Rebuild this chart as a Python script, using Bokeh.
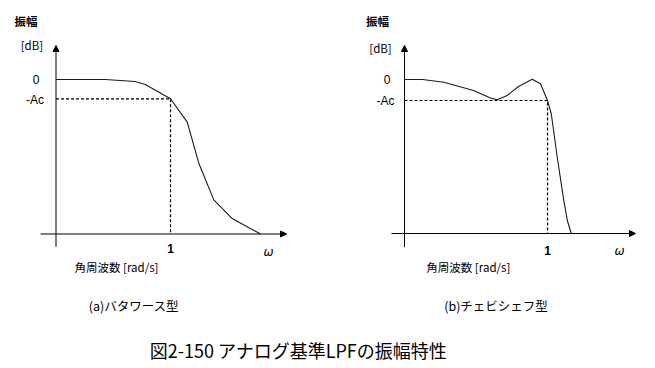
from bokeh.plotting import figure
from bokeh.layouts import column, row
from bokeh.models import Arrow, NormalHead, Range1d
from bokeh.core.properties import value
from bokeh.embed import file_html
from bokeh.resources import INLINE

# ---------------- data ----------------
AC = -3.0            # level of -Ac [dB]
FLOOR_A = -24.0      # level of the frequency axis, panel (a)
FLOOR_B = -22.0      # level of the frequency axis, panel (b)

butter_w = [0.0, 0.43, 0.69, 0.78, 1.0, 1.146, 1.247, 1.378, 1.539, 1.786]
butter_db = [0.0, 0.0, -0.31, -0.78, -3.0, -6.63, -13.0, -18.7, -21.6, -24.0]

cheby_w = [0.0, 0.126, 0.275, 0.483, 0.601, 0.648, 0.718, 0.797, 0.893, 0.951,
           1.0, 1.026, 1.068, 1.114, 1.138, 1.166]
cheby_db = [0.0, 0.0, -0.39, -1.57, -2.64, -2.9, -2.29, -1.0, 0.05, -0.61,
            -3.0, -4.86, -11.1, -17.3, -20.1, -22.0]

y_tick_labels = ["0", "-Ac"]
x_tick_label = "1"
y_label_1 = "振幅"
y_label_2 = "[dB]"
x_symbol = "ω"
x_label_a = "角周波数 [rad/s]"
x_label_b = "角周波数  [rad/s]"
sub_a = "(a)バタワース型"
sub_b = "(b)チェビシェフ型"
main_title = "図2-150  アナログ基準LPFの振幅特性"

JP = value("Noto Sans CJK JP")
LAT = value("Liberation Sans")
INK = "#1a1a1a"


def make_panel(width, xr, yr, w, db, floor, ax, lab, sub, xlab):
    p = figure(width=width, height=328, x_range=Range1d(*xr), y_range=Range1d(*yr),
               output_backend="svg", toolbar_location=None,
               x_axis_location=None, y_axis_location=None, min_border=0,
               outline_line_color=None, background_fill_color="white",
               border_fill_color="white")
    p.grid.visible = False
    # axes with arrow heads
    p.add_layout(Arrow(end=NormalHead(size=6, fill_color="black", line_color="black", line_width=1),
                       x_start=0, y_start=ax["ybot"], x_end=0, y_end=ax["ytop"],
                       line_color="black", line_width=1))
    p.add_layout(Arrow(end=NormalHead(size=6, fill_color="black", line_color="black", line_width=1),
                       x_start=ax["xleft"], y_start=floor, x_end=ax["xright"], y_end=floor,
                       line_color="black", line_width=1))
    # dashed guides
    p.line([0, 1, 1], [AC, AC, floor], line_color="black", line_width=1.2, line_dash="3 2")
    # response curve
    p.line(w, db, line_color=INK, line_width=1.1)
    # texts
    p.text([lab["y1"][0]], [lab["y1"][1]], text=[y_label_1], text_font=JP, text_font_size="11.5px",
           text_align="center", text_baseline="middle", text_color="black", text_font_style="bold")
    p.text([lab["y2"][0]], [lab["y2"][1]], text=[y_label_2], text_font=JP, text_font_size="11.5px",
           text_align="center", text_baseline="middle", text_color="black")
    p.text([lab["t0"][0], lab["tac"][0]], [lab["t0"][1], lab["tac"][1]], text=y_tick_labels,
           text_font=LAT, text_font_size="12px", text_align="center", text_baseline="middle",
           text_color="black")
    p.text([1.0], [lab["t1"]], text=[x_tick_label], text_font=LAT, text_font_size="12px",
           text_align="center", text_baseline="middle", text_color="black", text_font_style="bold")
    p.text([lab["om"][0]], [lab["om"][1]], text=[x_symbol], text_font=value("DejaVu Sans"),
           text_font_size="12px", text_font_style="italic", text_align="center",
           text_baseline="middle", text_color="black")
    p.text([lab["xl"][0]], [lab["xl"][1]], text=[xlab], text_font=JP, text_font_size="11.5px",
           text_align="center", text_baseline="middle", text_color="black")
    p.text([lab["sub"][0]], [lab["sub"][1]], text=[sub], text_font=JP, text_font_size="12.5px",
           text_align="center", text_baseline="middle", text_color="black")
    return p


pa = make_panel(338, (-0.4847, 2.467), (-38.68, 12.27), butter_w, butter_db, FLOOR_A,
                dict(ybot=-26.0, ytop=5.28, xleft=-0.135, xright=2.013),
                dict(y1=(-0.262, 9.06), y2=(-0.21, 5.28), t0=(-0.175, 0.0), tac=(-0.183, -3.15),
                     t1=-26.3, om=(1.856, -26.8), xl=(0.528, -29.1), sub=(0.681, -35.1)),
                sub_a, x_label_a)

pb = make_panel(317, (-0.4615, 1.755), (-35.57, 11.29), cheby_w, cheby_db, FLOOR_B,
                dict(ybot=-23.96, ytop=4.86, xleft=-0.091, xright=1.615),
                dict(y1=(-0.189, 8.33), y2=(-0.168, 4.57), t0=(-0.122, 0.0), tac=(-0.133, -3.0),
                     t1=-24.4, om=(1.503, -24.5), xl=(0.455, -26.8), sub=(0.64, -32.3)),
                sub_b, x_label_b)

pt = figure(width=655, height=39, x_range=Range1d(0, 1), y_range=Range1d(0, 1),
            output_backend="svg", toolbar_location=None, x_axis_location=None,
            y_axis_location=None, min_border=0, outline_line_color=None)
pt.grid.visible = False
pt.text([0.4580], [0.46], text=[main_title], text_font=JP, text_font_size="18px",
        text_align="center", text_baseline="middle", text_color="black")

layout = column(row(pa, pb), pt)
open("out.html", "w").write(file_html(layout, INLINE))
